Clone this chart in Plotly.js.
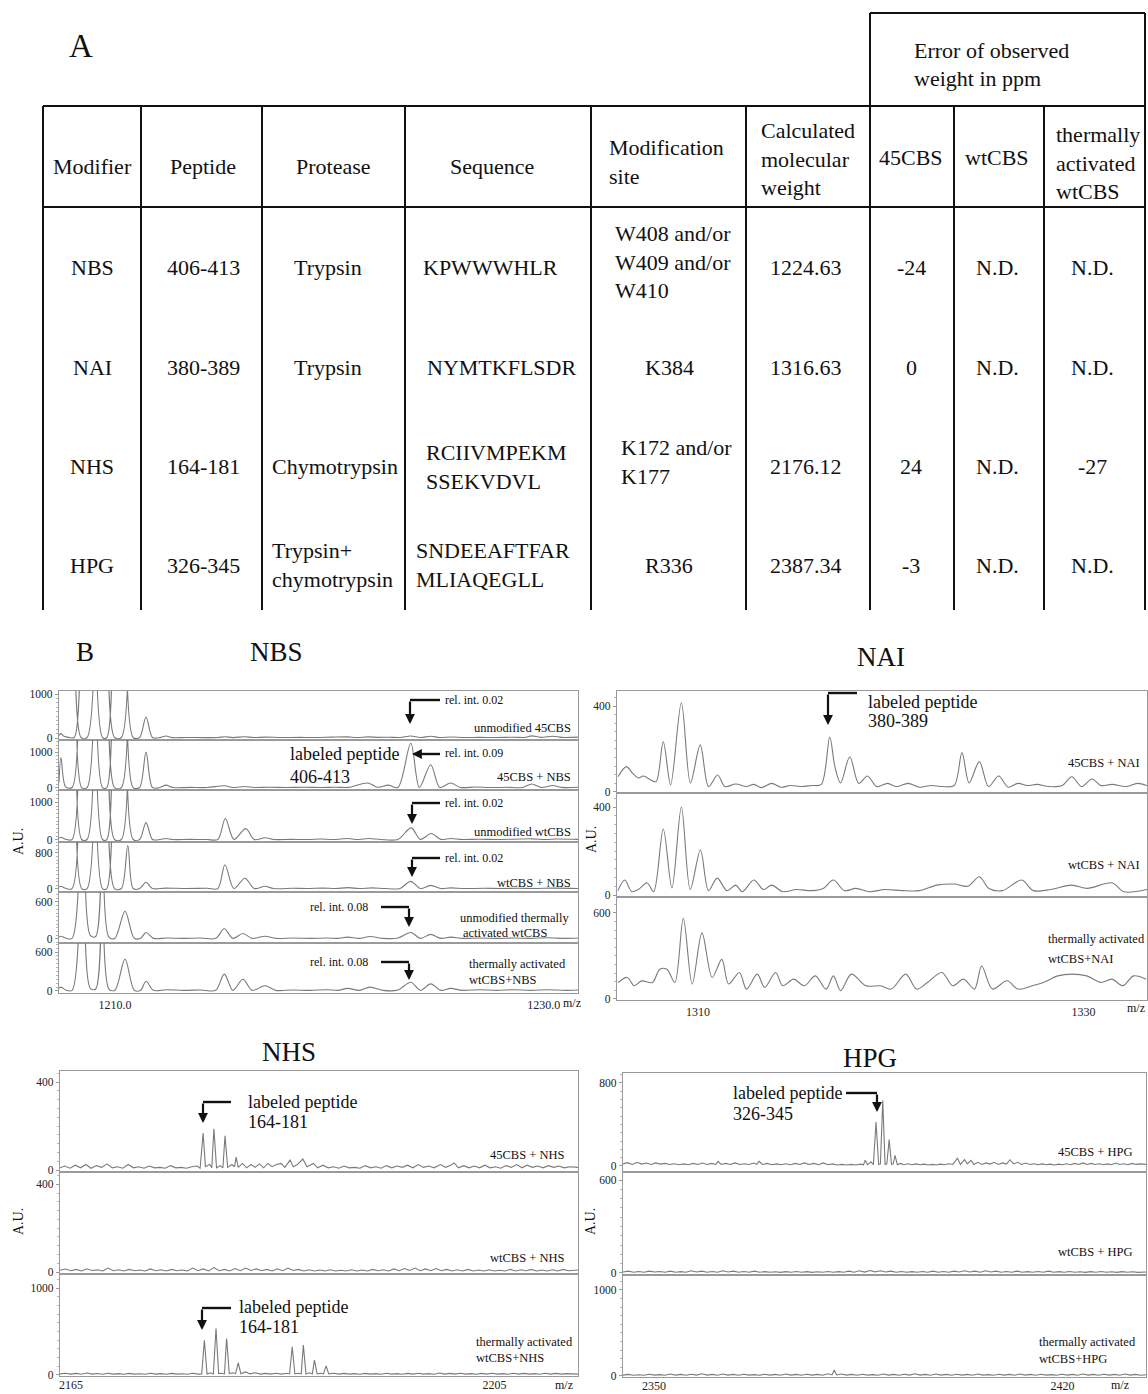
<!DOCTYPE html>
<html><head><meta charset="utf-8">
<script src="https://cdn.plot.ly/plotly-3.0.1.min.js"></script>
<style>html,body{margin:0;padding:0;background:#fff}#chart{width:1148px;height:1394px}</style>
</head><body><div id="chart"></div>
<script>
// ---------------- TABLE DATA (part A) ----------------
const tableHeaders = ['Modifier','Peptide','Protease','Sequence','Modification<br>site','Calculated<br>molecular<br>weight','45CBS','wtCBS','thermally<br>activated<br>wtCBS'];
const errorHeader = ['Error of observed','weight in ppm'];
const modifiers = ['NBS','NAI','NHS','HPG'];
const peptides = ['406-413','380-389','164-181','326-345'];
const proteases = ['Trypsin','Trypsin','Chymotrypsin','Trypsin+<br>chymotrypsin'];
const sequences = ['KPWWWHLR','NYMTKFLSDR','RCIIVMPEKM<br>SSEKVDVL','SNDEEAFTFAR<br>MLIAQEGLL'];
const modSites = ['W408 and/or<br>W409 and/or<br>W410','K384','K172 and/or<br>K177','R336'];
const calcMW = ['1224.63','1316.63','2176.12','2387.34'];
const err45CBS = ['-24','0','24','-3'];
const errWtCBS = ['N.D.','N.D.','N.D.','N.D.'];
const errThermal = ['N.D.','N.D.','-27','N.D.'];

// ---------------- SPECTRA DATA (part B) [m/z, intensity] ----------------
const nbs1 = [[1207.39,60],[1207.48,100],[1207.62,40],[1207.85,15],[1208.1,12],[1208.27,9000],[1208.42,12],[1208.7,12],[1209.05,12000],[1209.42,12],[1209.62,12],[1209.81,9000],[1209.98,12],[1210.3,12],[1210.6,9000],[1210.85,12],[1211.15,12],[1211.45,480],[1211.75,12],[1212.1,10],[1212.38,45],[1212.65,10],[1213.3,12],[1214.2,10],[1214.8,12],[1215.13,30],[1215.5,10],[1216.06,30],[1216.45,12],[1217.0,20],[1217.8,12],[1218.6,15],[1219.4,12],[1220.1,20],[1220.86,25],[1221.3,12],[1221.8,25],[1222.3,15],[1222.75,18],[1223.3,12],[1223.8,45],[1224.25,12],[1224.73,40],[1225.15,12],[1225.66,22],[1226.3,12],[1227.0,15],[1227.8,12],[1228.6,18],[1229.1,12],[1229.44,50],[1229.85,15],[1230.42,40],[1230.85,15],[1231.6,20]];
const nbs2 = [[1207.39,150],[1207.48,850],[1207.7,30],[1208.0,12],[1208.27,9000],[1208.45,12],[1208.7,12],[1209.05,12000],[1209.42,12],[1209.62,12],[1209.81,9000],[1209.98,12],[1210.3,12],[1210.6,9000],[1210.85,12],[1211.15,12],[1211.45,1000],[1211.75,12],[1212.1,12],[1212.38,80],[1212.7,12],[1213.5,15],[1214.3,12],[1215.13,60],[1215.5,12],[1216.06,40],[1216.5,12],[1217.2,20],[1218.0,12],[1218.8,20],[1219.6,12],[1220.3,20],[1220.9,15],[1221.8,140],[1222.25,20],[1222.75,80],[1223.2,15],[1223.8,1250],[1224.2,15],[1224.73,650],[1225.15,15],[1225.66,140],[1226.1,15],[1226.8,25],[1227.5,12],[1228.3,18],[1229.0,12],[1229.44,110],[1229.9,15],[1230.42,70],[1230.85,15],[1231.6,20]];
const nbs3 = [[1207.39,40],[1207.48,70],[1207.7,20],[1208.0,12],[1208.27,9000],[1208.45,12],[1208.7,12],[1209.05,12000],[1209.42,12],[1209.62,12],[1209.81,9000],[1209.98,12],[1210.3,12],[1210.6,9000],[1210.85,12],[1211.15,12],[1211.45,460],[1211.75,12],[1212.1,12],[1212.38,40],[1212.7,12],[1213.5,15],[1214.3,12],[1214.8,15],[1215.15,570],[1215.55,15],[1216.1,300],[1216.5,12],[1217.0,60],[1217.4,12],[1218.2,15],[1219.0,12],[1219.6,25],[1220.2,12],[1220.86,40],[1221.3,12],[1221.85,40],[1222.4,12],[1223.2,15],[1223.82,320],[1224.25,15],[1224.75,170],[1225.2,15],[1225.66,40],[1226.2,12],[1227.0,20],[1227.8,12],[1228.6,20],[1229.44,30],[1230.1,12],[1230.6,25],[1231.6,15]];
const nbs4 = [[1207.39,40],[1207.48,60],[1207.7,15],[1208.0,10],[1208.27,9000],[1208.45,10],[1208.7,10],[1209.05,12000],[1209.42,10],[1209.62,10],[1209.81,9000],[1209.98,10],[1210.3,10],[1210.6,970],[1210.85,10],[1211.15,10],[1211.45,150],[1211.75,10],[1212.38,20],[1213.3,10],[1214.3,15],[1214.8,10],[1215.13,540],[1215.55,10],[1216.06,240],[1216.5,10],[1217.0,60],[1217.4,10],[1218.3,15],[1219.0,10],[1219.7,20],[1220.3,10],[1220.86,30],[1221.4,10],[1222.0,25],[1222.6,10],[1223.3,12],[1223.8,170],[1224.25,10],[1224.73,80],[1225.2,10],[1225.66,25],[1226.3,10],[1227.2,15],[1228.0,10],[1228.8,15],[1229.6,10],[1230.4,20],[1231.6,10]];
const nbs5 = [[1207.39,30],[1207.48,45],[1207.7,15],[1208.0,10],[1208.5,3000],[1208.85,60],[1209.1,40],[1209.42,3000],[1209.72,30],[1210.0,12],[1210.47,450],[1210.9,12],[1211.2,12],[1211.45,105],[1211.8,10],[1212.4,15],[1213.2,10],[1214.0,15],[1214.7,10],[1215.1,165],[1215.5,10],[1215.97,90],[1216.4,10],[1217.0,45],[1217.5,10],[1218.3,15],[1219.1,10],[1219.9,15],[1220.4,10],[1220.86,30],[1221.4,10],[1221.9,40],[1222.5,10],[1223.2,15],[1223.8,105],[1224.25,10],[1224.73,75],[1225.2,10],[1225.66,30],[1226.2,10],[1227.0,15],[1227.8,10],[1228.6,15],[1229.4,10],[1230.2,20],[1231.0,10],[1231.6,15]];
const nbs6 = [[1207.39,40],[1207.48,60],[1207.7,15],[1208.0,10],[1208.5,3000],[1208.85,40],[1209.1,30],[1209.42,3000],[1209.72,30],[1210.0,12],[1210.47,490],[1210.9,12],[1211.2,12],[1211.45,150],[1211.8,10],[1212.4,20],[1213.2,10],[1214.0,15],[1214.7,10],[1215.1,260],[1215.5,10],[1215.97,180],[1216.4,10],[1217.0,80],[1217.5,10],[1218.3,15],[1219.1,10],[1219.9,20],[1220.4,10],[1220.86,40],[1221.4,10],[1221.9,60],[1222.5,10],[1223.2,15],[1223.8,135],[1224.25,10],[1224.73,110],[1225.2,10],[1225.66,40],[1226.2,10],[1227.0,20],[1227.8,10],[1228.6,20],[1229.4,10],[1230.2,20],[1231.0,10],[1231.6,15]];

const nai1 = [[1305.85,71],[1306.29,118],[1306.6,88],[1306.9,65],[1307.17,74],[1307.55,56],[1307.83,48],[1308.2,234],[1308.58,33],[1309.14,415],[1309.61,42],[1310.12,219],[1310.55,25],[1311.02,79],[1311.4,25],[1311.96,37],[1312.5,25],[1312.9,35],[1313.3,20],[1313.83,40],[1314.3,22],[1314.8,30],[1315.4,25],[1315.9,30],[1316.4,35],[1316.84,256],[1317.1,120],[1317.4,42],[1317.88,164],[1318.34,40],[1318.8,74],[1319.27,25],[1319.84,40],[1320.3,25],[1320.9,40],[1321.5,22],[1322.1,30],[1322.7,25],[1323.3,30],[1323.7,183],[1324.07,42],[1324.6,141],[1325.08,25],[1325.6,74],[1326.1,22],[1326.6,40],[1327.1,30],[1327.6,35],[1328.2,25],[1328.9,30],[1329.4,71],[1329.9,25],[1330.45,60],[1330.9,30],[1331.5,35],[1332.2,25],[1332.8,40],[1333.3,30]];
const nai2 = [[1305.85,20],[1306.2,68],[1306.57,15],[1306.9,25],[1307.36,55],[1307.7,15],[1308.2,300],[1308.65,32],[1309.14,400],[1309.6,25],[1310.13,205],[1310.55,20],[1311.0,77],[1311.5,20],[1311.96,45],[1312.3,15],[1312.9,68],[1313.4,25],[1313.83,45],[1314.4,15],[1315.1,25],[1315.9,20],[1316.5,30],[1317.03,68],[1317.6,20],[1318.2,30],[1318.9,15],[1319.7,25],[1320.6,20],[1321.5,20],[1322.4,45],[1323.3,50],[1324.0,40],[1324.6,83],[1325.1,30],[1325.8,20],[1326.8,68],[1327.4,20],[1328.3,25],[1329.4,45],[1330.2,30],[1331.5,55],[1332.1,15],[1333.3,25]];
const nai3 = [[1305.86,115],[1306.33,150],[1306.7,92],[1307.08,126],[1307.64,115],[1308.02,207],[1308.39,207],[1308.8,115],[1309.24,564],[1309.7,104],[1310.21,460],[1310.74,150],[1311.24,276],[1311.59,104],[1312.15,184],[1312.52,69],[1313.08,173],[1313.46,81],[1314.03,184],[1314.4,92],[1314.96,138],[1315.52,92],[1316.09,161],[1316.65,69],[1317.03,161],[1317.4,58],[1317.96,173],[1318.72,92],[1319.47,92],[1320.03,69],[1320.78,173],[1321.35,69],[1321.91,115],[1322.66,184],[1323.22,92],[1323.78,138],[1324.35,69],[1324.72,230],[1325.28,69],[1326.04,127],[1326.6,69],[1327.35,92],[1327.92,115],[1328.67,161],[1329.42,173],[1330.17,161],[1330.92,115],[1331.48,138],[1332.05,92],[1332.6,161],[1333.26,138]];

const nhs1 = [[2163.96,10],[2164.4,18],[2164.9,8],[2165.4,22],[2165.9,10],[2166.4,25],[2166.9,8],[2167.4,20],[2167.9,12],[2168.4,28],[2168.9,10],[2169.4,15],[2169.9,8],[2170.4,25],[2170.9,10],[2171.4,15],[2171.9,8],[2172.4,18],[2172.9,10],[2173.4,12],[2173.9,8],[2174.4,20],[2174.9,10],[2175.4,12],[2175.9,8],[2176.4,15],[2176.9,18],[2177.2,8],[2177.48,168],[2177.7,15],[2178.1,25],[2178.3,10],[2178.5,187],[2178.75,10],[2179.1,20],[2179.35,10],[2179.55,155],[2179.8,12],[2180.2,25],[2180.45,15],[2180.6,59],[2180.8,12],[2181.2,30],[2181.6,10],[2182.0,25],[2182.4,12],[2182.8,28],[2183.2,10],[2183.6,30],[2184.0,15],[2184.4,25],[2184.85,30],[2185.2,12],[2185.7,45],[2186.0,15],[2186.4,25],[2186.9,50],[2187.3,15],[2187.9,30],[2188.3,10],[2188.8,22],[2189.3,10],[2189.8,15],[2190.3,8],[2190.8,18],[2191.3,10],[2191.8,12],[2192.3,8],[2192.8,20],[2193.3,10],[2193.8,15],[2194.3,8],[2194.8,20],[2195.3,10],[2195.8,18],[2196.3,12],[2196.8,22],[2197.3,10],[2197.8,25],[2198.3,12],[2198.8,18],[2199.3,10],[2199.9,25],[2200.4,12],[2200.8,20],[2201.2,32],[2201.6,10],[2202.1,20],[2202.6,10],[2203.1,18],[2203.6,10],[2204.1,22],[2204.6,10],[2205.1,15],[2205.6,8],[2206.1,20],[2206.6,12],[2207.1,25],[2207.6,10],[2208.1,22],[2208.6,12],[2209.1,18],[2209.6,10],[2210.1,20],[2210.6,12],[2211.1,18],[2211.6,10],[2212.1,15],[2212.9,12]];
const nhs2 = [[2163.96,8],[2164.5,14],[2165.0,6],[2165.5,12],[2166.0,5],[2166.5,15],[2167.0,7],[2167.5,10],[2168.0,5],[2168.5,18],[2169.0,6],[2169.5,10],[2170.0,5],[2170.5,12],[2171.0,6],[2171.5,9],[2172.0,5],[2172.5,14],[2173.0,6],[2173.5,10],[2174.0,5],[2174.5,12],[2175.0,6],[2175.5,9],[2176.0,5],[2176.5,18],[2177.0,6],[2177.5,14],[2178.0,5],[2178.5,20],[2179.0,6],[2179.5,12],[2180.0,5],[2180.5,16],[2181.0,6],[2181.5,18],[2182.0,7],[2182.5,14],[2183.0,6],[2183.5,12],[2184.0,5],[2184.5,15],[2185.0,6],[2185.5,18],[2186.0,7],[2186.5,12],[2187.0,5],[2187.5,10],[2188.0,5],[2188.5,9],[2189.0,5],[2189.5,10],[2190.0,5],[2190.5,8],[2191.0,5],[2191.5,10],[2192.0,5],[2192.5,9],[2193.0,5],[2193.5,12],[2194.0,6],[2194.5,10],[2195.0,5],[2195.5,14],[2196.0,6],[2196.5,16],[2197.0,7],[2197.5,18],[2198.0,6],[2198.5,14],[2199.0,6],[2199.5,16],[2200.0,6],[2200.5,12],[2201.0,5],[2201.5,10],[2202.0,5],[2202.5,12],[2203.0,5],[2203.5,9],[2204.0,5],[2204.5,10],[2205.0,5],[2205.5,8],[2206.0,5],[2206.5,12],[2207.0,5],[2207.5,10],[2208.0,6],[2208.5,12],[2209.0,5],[2209.5,9],[2210.0,5],[2210.5,10],[2211.0,5],[2211.5,12],[2212.0,6],[2212.9,9]];
const nhs3 = [[2163.96,12],[2164.5,20],[2165.0,10],[2165.5,18],[2166.0,8],[2166.5,22],[2167.0,10],[2167.5,16],[2168.0,8],[2168.5,20],[2169.0,10],[2169.5,15],[2170.0,8],[2170.5,18],[2171.0,10],[2171.5,14],[2172.0,8],[2172.5,20],[2173.0,10],[2173.5,15],[2174.0,8],[2174.5,18],[2175.0,10],[2175.5,14],[2176.0,8],[2176.5,20],[2177.0,10],[2177.35,12],[2177.6,400],[2177.85,12],[2178.2,25],[2178.45,12],[2178.7,535],[2178.95,15],[2179.25,20],[2179.5,12],[2179.7,420],[2179.95,15],[2180.3,25],[2180.55,15],[2180.8,140],[2181.05,15],[2181.5,35],[2181.9,12],[2182.4,25],[2182.9,10],[2183.4,18],[2183.9,10],[2184.4,20],[2184.9,10],[2185.4,20],[2185.65,12],[2185.9,325],[2186.15,12],[2186.5,20],[2186.75,12],[2186.95,345],[2187.2,12],[2187.55,25],[2187.8,12],[2188.0,170],[2188.25,12],[2188.6,20],[2188.85,12],[2189.1,105],[2189.35,12],[2189.8,20],[2190.3,10],[2190.8,18],[2191.3,10],[2191.8,15],[2192.3,8],[2192.8,18],[2193.3,10],[2193.8,15],[2194.3,8],[2194.8,20],[2195.3,10],[2195.8,15],[2196.3,8],[2196.8,18],[2197.3,10],[2197.8,20],[2198.3,10],[2198.8,15],[2199.3,8],[2199.8,22],[2200.3,10],[2200.8,18],[2201.3,10],[2201.8,20],[2202.3,10],[2202.8,15],[2203.3,8],[2203.8,18],[2204.3,10],[2204.8,20],[2205.3,10],[2205.8,15],[2206.3,8],[2206.8,20],[2207.3,10],[2207.8,18],[2208.3,10],[2208.8,15],[2209.3,8],[2209.8,20],[2210.3,10],[2210.8,18],[2211.3,10],[2211.8,15],[2212.9,10]];

const hpg1 = [[2344.7,20],[2345.5,32],[2346.3,15],[2347.1,35],[2347.9,18],[2348.7,28],[2349.5,15],[2350.3,30],[2351.1,18],[2351.9,25],[2352.7,14],[2353.5,22],[2354.3,12],[2355.1,20],[2355.9,12],[2356.7,25],[2357.5,14],[2358.3,28],[2359.1,15],[2359.9,25],[2360.6,15],[2361.0,45],[2361.5,15],[2362.3,25],[2363.1,14],[2363.9,30],[2364.7,15],[2365.5,22],[2366.3,14],[2367.1,28],[2367.6,15],[2368.0,45],[2368.6,15],[2369.4,25],[2370.2,12],[2371.0,20],[2371.8,12],[2372.6,22],[2373.4,12],[2374.2,25],[2375.0,14],[2375.8,30],[2376.6,15],[2377.4,25],[2378.2,12],[2379.0,30],[2379.8,12],[2380.6,20],[2381.4,10],[2382.2,15],[2383.0,10],[2383.8,15],[2384.6,10],[2385.4,18],[2385.9,12],[2386.2,56],[2386.6,12],[2387.2,40],[2387.6,12],[2388.05,423],[2388.5,15],[2388.8,20],[2389.2,630],[2389.6,15],[2389.9,20],[2390.3,254],[2390.7,15],[2391.0,20],[2391.3,103],[2391.7,12],[2392.2,25],[2392.8,12],[2393.5,22],[2394.2,12],[2394.9,20],[2395.6,12],[2396.3,18],[2397.0,10],[2397.7,15],[2398.4,10],[2399.1,18],[2399.8,12],[2400.5,22],[2401.2,15],[2402.0,75],[2402.5,15],[2403.2,60],[2403.7,20],[2404.3,55],[2404.8,15],[2405.5,35],[2406.2,15],[2406.9,30],[2407.6,18],[2408.3,35],[2409.0,15],[2409.7,30],[2410.4,18],[2411.0,60],[2411.6,20],[2412.3,35],[2413.0,15],[2413.7,28],[2414.4,14],[2415.1,22],[2415.8,12],[2416.5,20],[2417.2,12],[2417.9,18],[2418.6,10],[2419.3,18],[2420.0,12],[2420.7,22],[2421.4,12],[2422.1,25],[2422.8,14],[2423.5,30],[2424.2,15],[2424.9,25],[2425.6,14],[2426.3,22],[2427.0,12],[2427.7,20],[2428.4,12],[2429.1,28],[2429.8,15],[2430.5,22],[2431.2,12],[2431.9,25],[2432.6,15],[2433.3,20],[2434.3,15]];
const hpg2 = [[2344.7,6],[2345.6,12],[2346.5,5],[2347.4,10],[2348.3,5],[2349.2,12],[2350.1,6],[2351.0,10],[2351.9,5],[2352.8,12],[2353.7,5],[2354.6,9],[2355.5,5],[2356.4,14],[2357.3,6],[2358.2,12],[2359.1,5],[2360.0,10],[2360.9,5],[2361.8,14],[2362.7,6],[2363.6,12],[2364.5,5],[2365.4,10],[2366.3,5],[2367.2,12],[2368.1,5],[2369.0,9],[2369.9,5],[2370.8,8],[2371.7,4],[2372.6,9],[2373.5,5],[2374.4,10],[2375.3,5],[2376.2,9],[2377.1,4],[2378.0,8],[2378.9,5],[2379.8,10],[2380.7,5],[2381.6,9],[2382.5,5],[2383.4,12],[2384.3,5],[2385.2,14],[2386.1,6],[2387.0,16],[2387.9,7],[2388.8,14],[2389.7,6],[2390.6,12],[2391.5,5],[2392.4,10],[2393.3,5],[2394.2,9],[2395.1,5],[2396.0,10],[2396.9,5],[2397.8,12],[2398.7,5],[2399.6,10],[2400.5,5],[2401.4,12],[2402.3,6],[2403.2,14],[2404.1,6],[2405.0,12],[2405.9,5],[2406.8,14],[2407.7,6],[2408.6,12],[2409.5,5],[2410.4,10],[2411.3,5],[2412.2,12],[2413.1,5],[2414.0,9],[2414.9,5],[2415.8,10],[2416.7,5],[2417.6,12],[2418.5,5],[2419.4,9],[2420.3,5],[2421.2,10],[2422.1,5],[2423.0,8],[2423.9,4],[2424.8,9],[2425.7,5],[2426.6,10],[2427.5,5],[2428.4,8],[2429.3,4],[2430.2,9],[2431.1,5],[2432.0,8],[2432.9,4],[2434.3,6]];
const hpg3 = [[2344.7,10],[2345.6,18],[2346.5,8],[2347.4,15],[2348.3,8],[2349.2,20],[2350.1,10],[2351.0,16],[2351.9,8],[2352.8,22],[2353.7,10],[2354.6,18],[2355.5,8],[2356.4,20],[2357.3,10],[2358.2,25],[2359.1,10],[2360.0,18],[2360.9,8],[2361.8,22],[2362.7,10],[2363.6,18],[2364.5,8],[2365.4,20],[2366.3,10],[2367.2,16],[2368.1,8],[2369.0,20],[2369.9,10],[2370.8,18],[2371.7,8],[2372.6,22],[2373.5,10],[2374.4,18],[2375.3,8],[2376.2,20],[2377.1,10],[2378.0,18],[2378.9,8],[2379.8,25],[2380.5,12],[2380.9,70],[2381.3,12],[2382.1,22],[2383.0,10],[2383.9,18],[2384.8,8],[2385.7,20],[2386.6,10],[2387.5,16],[2388.4,8],[2389.3,22],[2390.2,10],[2391.1,18],[2392.0,8],[2392.9,20],[2393.8,10],[2394.7,25],[2395.6,10],[2396.5,18],[2397.4,8],[2398.3,22],[2399.2,10],[2400.1,18],[2401.0,8],[2401.9,20],[2402.8,10],[2403.7,18],[2404.6,8],[2405.5,22],[2406.4,10],[2407.3,16],[2408.2,8],[2409.1,20],[2410.0,10],[2410.9,18],[2411.8,8],[2412.7,22],[2413.6,10],[2414.5,18],[2415.4,8],[2416.3,20],[2417.2,10],[2418.1,16],[2419.0,8],[2419.9,20],[2420.8,10],[2421.7,18],[2422.6,8],[2423.5,22],[2424.4,10],[2425.3,18],[2426.2,8],[2427.1,20],[2428.0,10],[2428.9,18],[2429.8,8],[2430.7,22],[2431.6,10],[2432.5,18],[2433.4,8],[2434.3,15]];

// tick labels
const nbsXTicks = [1210, 1230], nbsXTickText = ['1210.0', '1230.0'];
const naiXTicks = [1310, 1330], naiXTickText = ['1310', '1330'];
const nhsXTicks = [2165, 2205], nhsXTickText = ['2165', '2205'];
const hpgXTicks = [2350, 2420], hpgXTickText = ['2350', '2420'];
const nbsYTop = [1000, 1000, 1000, 800, 600, 600];
const naiYTop = [400, 400, 600];
const nhsYTop = [400, 400, 1000];
const hpgYTop = [800, 600, 1000];

// ---------------- LAYOUT ----------------
const W = 1148, H = 1394;
const px = x => x / W, py = y => 1 - y / H;
const SERIF = 'Liberation Serif';
const INK = '#111';
const TRACE = '#7a7a7a', FRAME = '#9a9a9a';

const pNBS = {left: 59, right: 578, xr: [1207.39, 1231.6], xt: nbsXTicks, xtt: nbsXTickText, shape: 'spline'};
const pNAI = {left: 617, right: 1147, xr: [1305.8, 1333.3], xt: naiXTicks, xtt: naiXTickText, shape: 'spline'};
const pNHS = {left: 60, right: 578, xr: [2163.96, 2212.9], xt: nhsXTicks, xtt: nhsXTickText, shape: 'linear'};
const pHPG = {left: 623, right: 1146, xr: [2344.7, 2434.3], xt: hpgXTicks, xtt: hpgXTickText, shape: 'linear'};

const subs = [
  {p: pNBS, d: nbs1, top: 691, bot: 740, yr: [-45, 1070], tk: nbsYTop[0]},
  {p: pNBS, d: nbs2, top: 740, bot: 790, yr: [-57, 1340], tk: nbsYTop[1]},
  {p: pNBS, d: nbs3, top: 790, bot: 842, yr: [-54, 1324], tk: nbsYTop[2]},
  {p: pNBS, d: nbs4, top: 842, bot: 892, yr: [-67, 1044], tk: nbsYTop[3]},
  {p: pNBS, d: nbs5, top: 892, bot: 943, yr: [-65, 762], tk: nbsYTop[4]},
  {p: pNBS, d: nbs6, top: 943, bot: 993, yr: [-31, 739], tk: nbsYTop[5], last: true},
  {p: pNAI, d: nai1, top: 691, bot: 793, yr: [-5, 470], tk: naiYTop[0]},
  {p: pNAI, d: nai2, top: 793, bot: 897, yr: [-9, 464], tk: naiYTop[1]},
  {p: pNAI, d: nai3, top: 897, bot: 1000, yr: [-7, 710], tk: naiYTop[2], last: true},
  {p: pNHS, d: nhs1, top: 1071, bot: 1172, yr: [-9, 450], tk: nhsYTop[0]},
  {p: pNHS, d: nhs2, top: 1172, bot: 1274, yr: [-9, 456], tk: nhsYTop[1]},
  {p: pNHS, d: nhs3, top: 1274, bot: 1376, yr: [-12, 1161], tk: nhsYTop[2], last: true, sto: -3},
  {p: pHPG, d: hpg1, top: 1073, bot: 1172, yr: [-58, 896], tk: hpgYTop[0]},
  {p: pHPG, d: hpg2, top: 1172, bot: 1275, yr: [-13, 652], tk: hpgYTop[1]},
  {p: pHPG, d: hpg3, top: 1275, bot: 1377, yr: [-12, 1174], tk: hpgYTop[2], last: true, sto: -3}
];

const traces = [];
const layout = {
  width: W, height: H, margin: {l: 0, r: 0, t: 0, b: 0},
  paper_bgcolor: '#fff', plot_bgcolor: '#fff', showlegend: false,
  font: {family: SERIF, color: INK},
  shapes: [], annotations: []
};

subs.forEach((s, i) => {
  const n = i + 1, sfx = n === 1 ? '' : String(n);
  const xa = {
    domain: [px(s.p.left), px(s.p.right)], anchor: 'y' + sfx, range: s.p.xr,
    showline: true, mirror: true, linecolor: FRAME, linewidth: 1.2,
    showgrid: false, zeroline: false, ticks: '',
    tickmode: 'array', tickvals: s.last ? s.p.xt : [], ticktext: s.last ? s.p.xtt : [],
    showticklabels: !!s.last, tickfont: {family: SERIF, size: 12, color: '#222'}, fixedrange: true
  };
  if (s.sto) xa.ticklabelstandoff = s.sto;
  layout['xaxis' + sfx] = xa;
  layout['yaxis' + sfx] = {
    domain: [py(s.bot), py(s.top)], anchor: 'x' + sfx, range: s.yr,
    tickmode: 'array', tickvals: [0, s.tk], ticktext: ['0', String(s.tk)],
    ticks: 'outside', ticklen: 3, tickcolor: FRAME,
    minor: {ticks: 'outside', ticklen: 2, tickcolor: '#b5b5b5', tickmode: 'linear', tick0: 0, dtick: s.tk / 10},
    showline: true, mirror: true, linecolor: FRAME, linewidth: 1.2,
    showgrid: false, zeroline: false, tickfont: {family: SERIF, size: 11.5, color: '#222'}, fixedrange: true
  };
  traces.push({
    type: 'scatter', mode: 'lines', xaxis: 'x' + sfx, yaxis: 'y' + sfx,
    x: s.d.map(p => p[0]), y: s.d.map(p => p[1]),
    line: {color: TRACE, width: 1.1, shape: s.p.shape, smoothing: 0.9}, hoverinfo: 'skip'
  });
});

// helpers
function txt(text, x, y, size, xanchor, align, extra) {
  layout.annotations.push(Object.assign({
    text: text, x: px(x), y: py(y), xref: 'paper', yref: 'paper',
    xanchor: xanchor || 'center', yanchor: 'middle', align: align || 'center',
    showarrow: false, font: {family: SERIF, size: size, color: INK}
  }, extra || {}));
}
function line(x0, y0, x1, y1, w, c) {
  layout.shapes.push({type: 'line', xref: 'paper', yref: 'paper', x0: px(x0), y0: py(y0), x1: px(x1), y1: py(y1),
    line: {color: c || INK, width: w || 2}});
}
function arrowTo(tx, ty, ax, ay) {
  layout.annotations.push({x: px(tx), y: py(ty), xref: 'paper', yref: 'paper', ax: ax, ay: ay,
    showarrow: true, arrowhead: 2, arrowsize: 0.9, arrowwidth: 2.2, arrowcolor: INK, text: ''});
}
// elbow: horizontal segment from (hx,cy) to (cx,cy), then down to tip (cx,tipY)
function elbow(cx, cy, hx, tipY) {
  line(hx, cy, cx, cy, 2.4);
  arrowTo(cx, tipY, 0, -(tipY - cy));
}

// ---------------- TABLE GEOMETRY ----------------
const colX = [43, 141, 262, 405, 591, 746, 870, 954, 1044, 1145];
const tTop = 106, tHead = 207, tBottom = 610, errTop = 13;
colX.forEach(x => line(x, (x === 870 || x === 1145) ? errTop : tTop, x, tBottom, 2));
line(43, tTop, 1145, tTop, 2);
line(43, tHead, 1145, tHead, 2);
line(870, errTop, 1145, errTop, 2);

txt('A', 81, 46, 33);
txt(errorHeader[0], 912, 50, 22, 'left', 'left');
txt(errorHeader[1], 912, 79, 22, 'left', 'left');

const TF = 22;
const headPos = [
  [92, 167, 'center'], [203, 167, 'center'], [333, 167, 'center'], [492, 167, 'center'],
  [607, 162, 'left'], [759, 159, 'left'], [911, 157, 'center'], [997, 157, 'center'], [1054, 163, 'left']
];
tableHeaders.forEach((h, i) => txt(h, headPos[i][0], headPos[i][1], TF, headPos[i][2], 'left'));

const rowY = [267, 368, 467, 565];
rowY.forEach((y, r) => {
  txt(modifiers[r], 92, y, TF);
  txt(peptides[r], 203, y, TF);
  if (proteases[r].indexOf('<br>') >= 0) txt(proteases[r], 270, y, TF, 'left', 'left');
  else txt(proteases[r], r === 2 ? 335 : 328, y, TF);
  if (sequences[r].indexOf('<br>') >= 0) txt(sequences[r], r === 2 ? 424 : 414, y, TF, 'left', 'left');
  else txt(sequences[r], r === 0 ? 490 : 501, y, TF);
  if (modSites[r].indexOf('<br>') >= 0) txt(modSites[r], r === 0 ? 613 : 619, y - 5, TF, 'left', 'left');
  else txt(modSites[r], 669, y, TF);
  txt(calcMW[r], 806, y, TF);
  txt(err45CBS[r], 911, y, TF);
  txt(errWtCBS[r], 997, y, TF);
  txt(errThermal[r], 1092, y, TF);
});

// ---------------- PART B LABELS ----------------
const LS = 12.5, RS = 12;
txt('B', 85, 652, 27);
txt('NBS', 276, 652, 27);
txt('NAI', 881, 657, 27);
txt('NHS', 289, 1052, 27);
txt('HPG', 870, 1058, 27);

// NBS
txt('unmodified 45CBS', 573, 728, LS, 'right');
txt('45CBS + NBS', 573, 777, LS, 'right');
txt('unmodified wtCBS', 573, 832, LS, 'right');
txt('wtCBS + NBS', 573, 883, LS, 'right');
txt('unmodified thermally', 514, 918, LS);
txt('activated wtCBS', 505, 933, LS);
txt('thermally activated', 467, 964, LS, 'left');
txt('wtCBS+NBS', 467, 980, LS, 'left');
txt('rel. int. 0.02', 443, 700, RS, 'left');
txt('rel. int. 0.09', 443, 753, RS, 'left');
txt('rel. int. 0.02', 443, 803, RS, 'left');
txt('rel. int. 0.02', 443, 858, RS, 'left');
txt('rel. int. 0.08', 370, 907, RS, 'right');
txt('rel. int. 0.08', 370, 962, RS, 'right');
txt('labeled peptide', 288, 754, 18, 'left');
txt('406-413', 288, 777, 18, 'left');
elbow(410, 700, 440, 724);
line(440, 754, 418, 754, 2.4);
arrowTo(412, 754, 28, 0);
elbow(412, 803, 440, 824);
elbow(412, 858, 440, 877);
elbow(409, 907, 381, 927);
elbow(409, 962, 381, 980);
txt('A.U.', 18, 842, 14, 'center', 'center', {textangle: -90});
txt('m/z', 572, 1003, 12);

// NAI
txt('labeled peptide', 866, 702, 18, 'left');
txt('380-389', 866, 721, 18, 'left');
elbow(828, 693, 857, 725);
txt('45CBS + NAI', 1142, 763, LS, 'right');
txt('wtCBS + NAI', 1142, 865, LS, 'right');
txt('thermally activated', 1046, 939, LS, 'left');
txt('wtCBS+NAI', 1046, 959, LS, 'left');
txt('A.U.', 591, 840, 14, 'center', 'center', {textangle: -90});
txt('m/z', 1136, 1008, 12);

// NHS
txt('labeled peptide', 246, 1102, 18, 'left');
txt('164-181', 246, 1122, 18, 'left');
elbow(203, 1102, 231, 1123);
txt('45CBS + NHS', 566, 1155, LS, 'right');
txt('wtCBS + NHS', 566, 1258, LS, 'right');
txt('labeled peptide', 237, 1307, 18, 'left');
txt('164-181', 237, 1327, 18, 'left');
elbow(202, 1308, 231, 1330);
txt('thermally activated', 474, 1342, LS, 'left');
txt('wtCBS+NHS', 474, 1358, LS, 'left');
txt('A.U.', 18, 1222, 14, 'center', 'center', {textangle: -90});
txt('m/z', 564, 1385, 12);

// HPG
txt('labeled peptide', 731, 1093, 18, 'left');
txt('326-345', 731, 1114, 18, 'left');
elbow(877, 1093, 846, 1112);
txt('45CBS + HPG', 1134, 1152, LS, 'right');
txt('wtCBS + HPG', 1134, 1252, LS, 'right');
txt('thermally activated', 1037, 1342, LS, 'left');
txt('wtCBS+HPG', 1037, 1359, LS, 'left');
txt('A.U.', 590, 1222, 14, 'center', 'center', {textangle: -90});
txt('m/z', 1120, 1385, 12);

Plotly.newPlot('chart', traces, layout, {displayModeBar: false, staticPlot: true});
</script></body></html>
